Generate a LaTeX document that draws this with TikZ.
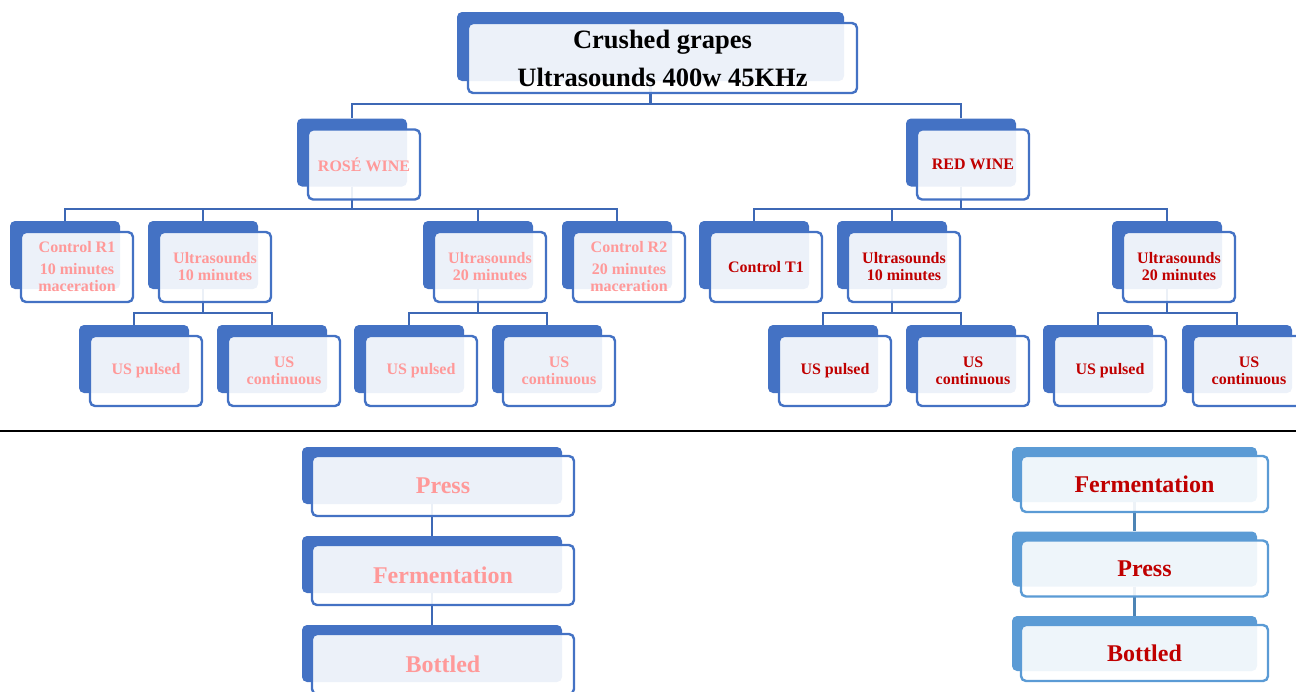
\documentclass[tikz,border=0pt]{standalone}
\usepackage{fontspec}
\setmainfont{Liberation Serif}
\usepackage{tikz}
\usetikzlibrary{positioning,calc}

\definecolor{boxblue}{HTML}{4472C4}
\definecolor{paleblue}{HTML}{5B9BD5}
\definecolor{linkblue}{HTML}{3D68B5}
\definecolor{rosetext}{HTML}{FF9999}
\definecolor{redtext}{HTML}{C00000}

\begin{document}
\begin{tikzpicture}[x=1pt,y=-1pt]
		\tikzset{
			backbox/.style={fill=boxblue,rounded corners=5pt,inner sep=0pt,minimum width=110pt,minimum height=68pt},
			frontbox/.style={draw=boxblue,line width=2.4pt,fill=white,fill opacity=0.9,text opacity=1,rounded corners=5pt,inner sep=0pt,
					minimum width=112pt,minimum height=70pt,align=center,font=\fontsize{16}{17}\selectfont\bfseries},
			link/.style={draw=linkblue,line width=2.4pt},
		}
		\useasboundingbox (0,0) rectangle (1296,691);

		% back boxes
		\node[backbox,minimum width=387pt,minimum height=69pt] (title) at (650.5,46.5) {};
		\foreach \n/\x/\y in {rose/352/152.5,red/961/152.5,
				ctrlRa/65/255,usRten/203/255,usRtwenty/478/255,ctrlRb/617/255,
				ctrlT/754/255,usTten/892/255,usTtwenty/1167/255,
				pulseRa/134/359,contRa/272/359,pulseRb/409/359,contRb/547/359,
				pulseTa/823/359,contTa/961/359,pulseTb/1098/359,contTb/1237/359}{
				\node[backbox] (\n) at (\x,\y) {};
			}
		\foreach \n/\y in {pressR/475.5,fermR/564.5,bottR/653.5}{
				\node[backbox,minimum width=260pt,minimum height=57pt] (\n) at (432,\y) {};
			}
		\foreach \n/\y in {fermT/474.5,pressT/559,bottT/643.5}{
				\node[backbox,fill=paleblue,minimum width=245pt,minimum height=55pt] (\n) at (1134.5,\y) {};
			}

		% connectors
		\coordinate (busA) at (0,104);
		\coordinate (busB) at (0,209);
		\coordinate (busC) at (0,313);
		\foreach \k in {rose,red}{
				\draw[link] (title.south) -- (title.south |- busA) -| (\k.north);
			}
		\foreach \k in {ctrlRa,usRten,usRtwenty,ctrlRb}{
				\draw[link] (rose.south) -- (rose.south |- busB) -| (\k.north);
			}
		\foreach \k in {ctrlT,usTten,usTtwenty}{
				\draw[link] (red.south) -- (red.south |- busB) -| (\k.north);
			}
		\foreach \p/\a/\b in {usRten/pulseRa/contRa,usRtwenty/pulseRb/contRb,usTten/pulseTa/contTa,usTtwenty/pulseTb/contTb}{
				\draw[link] (\p.south) -- (\p.south |- busC);
				\draw[link] (\a.north) |- (\p.south |- busC) -| (\b.north);
			}
		\draw[link] (pressR.south) -- (fermR.north);
		\draw[link] (fermR.south) -- (bottR.north);
		\draw[link,draw=paleblue!85!black] (fermT.south) -- (pressT.north);
		\draw[link,draw=paleblue!85!black] (pressT.south) -- (bottT.north);

		\coordinate (sepL) at (0,431);
		\coordinate (sepR) at (1296,431);
		\draw[line width=2pt] (sepL) -- (sepR);

		% front boxes
		\node[frontbox,minimum width=389pt,font=\fontsize{26.5}{38}\selectfont\bfseries] (title-f) at ($(title)+(12,11.5)$)
		{Crushed grapes\\Ultrasounds 400w 45KHz};
		\foreach \n/\c/\t in {rose/rosetext/{ROSÉ WINE},red/redtext/{RED WINE},
				ctrlRa/rosetext/{Control R1\\[5pt]10 minutes\\maceration},usRten/rosetext/{Ultrasounds\\10 minutes},
				usRtwenty/rosetext/{Ultrasounds\\20 minutes},ctrlRb/rosetext/{Control R2\\[5pt]20 minutes\\maceration},
				ctrlT/redtext/{Control T1},usTten/redtext/{Ultrasounds\\10 minutes},usTtwenty/redtext/{Ultrasounds\\20 minutes},
				pulseRa/rosetext/{US pulsed},contRa/rosetext/{US\\continuous},pulseRb/rosetext/{US pulsed},contRb/rosetext/{US\\continuous},
				pulseTa/redtext/{US pulsed},contTa/redtext/{US\\continuous},pulseTb/redtext/{US pulsed},contTb/redtext/{US\\continuous}}{
				\node[frontbox,text=\c] (\n-f) at ($(\n)+(12,12)$) {\t};
			}
		\foreach \n/\t in {pressR/Press,fermR/Fermentation,bottR/Bottled}{
				\node[frontbox,text=rosetext,minimum width=262pt,minimum height=60pt,font=\fontsize{24}{26}\selectfont\bfseries]
				(\n-f) at ($(\n)+(11,10.5)$) {\t};
			}
		\foreach \n/\t in {fermT/Fermentation,pressT/Press,bottT/Bottled}{
				\node[frontbox,draw=paleblue,text=redtext,minimum width=247pt,minimum height=56pt,font=\fontsize{24}{26}\selectfont\bfseries]
				(\n-f) at ($(\n)+(10,9.5)$) {\t};
			}
	\end{tikzpicture}
\end{document}
